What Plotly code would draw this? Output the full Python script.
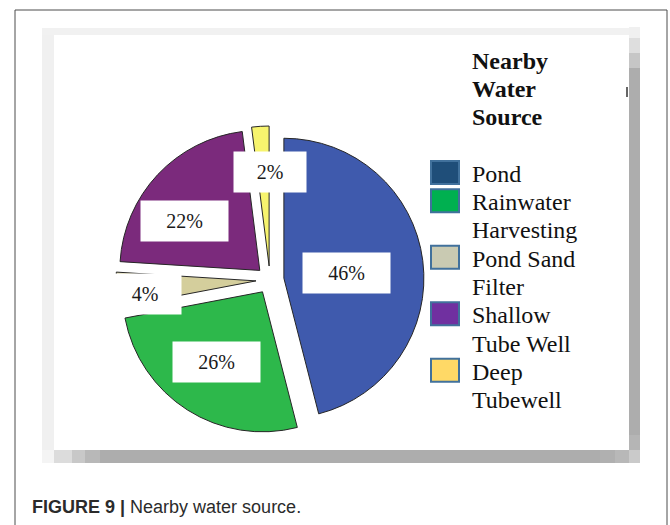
import math
import plotly.graph_objects as go

# Survey result: nearby water source (share of households, %)
sources = ["Pond", "Rainwater Harvesting", "Pond Sand Filter", "Shallow Tube Well", "Deep Tubewell"]
shares = [46, 26, 4, 22, 2]
pct_labels = ["46%", "26%", "4%", "22%", "2%"]
slice_colors = ["#3F5AAD", "#2DB84B", "#D4CE9C", "#7B2A7C", "#F7F46E"]
legend_colors = ["#1F4E79", "#00B050", "#C9CAB2", "#7030A0", "#FFD966"]
legend_lines = [["Pond"], ["Rainwater", "Harvesting"], ["Pond Sand", "Filter"],
                ["Shallow", "Tube Well"], ["Deep", "Tubewell"]]
legend_title = ["Nearby", "Water", "Source"]

W, H = 670, 525
SERIF = "Liberation Serif, Times New Roman, serif"

# pie geometry (pixels from top-left)
cx, cy, r, pull = 270, 280, 140, 0.1
half = r * (1 + pull)

def px(x):
    return x / W

def py(y):
    return 1 - y / H

fig = go.Figure()
fig.add_trace(go.Pie(
    labels=sources, values=shares, sort=False, direction="clockwise", rotation=0,
    pull=[pull] * len(shares), textinfo="none", hoverinfo="label+percent",
    marker=dict(colors=slice_colors, line=dict(color="#262626", width=1)),
    domain=dict(x=[px(cx - half), px(cx + half)], y=[py(cy + half), py(cy - half)]),
    showlegend=False,
))

# percentage labels in white boxes, placed along each slice's mid angle
label_frac = [0.55, 0.70, 0.90, 0.745, 0.775]
label_turn = [2, 1, -2.8, -8.7, 3.6]
annotations = []
total = sum(shares)
cum = 0
for i, s in enumerate(shares):
    mid = (cum + s / 2) / total * 2 * math.pi + math.radians(label_turn[i])
    cum += s
    lx = cx + label_frac[i] * r * math.sin(mid)
    ly = cy - label_frac[i] * r * math.cos(mid)
    annotations.append(dict(
        x=px(lx), y=py(ly), xref="paper", yref="paper", showarrow=False,
        text=pct_labels[i], font=dict(family=SERIF, size=20, color="#1A1A1A"),
        bgcolor="white", width=87 if len(pct_labels[i]) > 2 else 72, height=40,
        borderpad=0, xanchor="center", yanchor="middle",
    ))

# legend drawn as a text column with colour keys
line0, step, text_x = 61, 28.25, 470
for k, t in enumerate(legend_title):
    annotations.append(dict(
        x=px(text_x), y=py(line0 + step * k), xref="paper", yref="paper",
        showarrow=False, text="<b>%s</b>" % t, xanchor="left", yanchor="middle",
        font=dict(family=SERIF, size=24, color="#111111"),
    ))
shapes = []
k = 4
for i, lines in enumerate(legend_lines):
    ytop = line0 + step * k
    shapes.append(dict(
        type="rect", xref="paper", yref="paper",
        x0=px(431), x1=px(459), y0=py(ytop - 13), y1=py(ytop + 10),
        fillcolor=legend_colors[i], line=dict(color="#41719C", width=2),
    ))
    for ln in lines:
        annotations.append(dict(
            x=px(text_x), y=py(line0 + step * k), xref="paper", yref="paper",
            showarrow=False, text=ln, xanchor="left", yanchor="middle",
            font=dict(family=SERIF, size=24, color="#111111"),
        ))
        k += 1

# figure frame and soft drop shadow around the chart panel
def band(x0, x1, y0, y1, color):
    shapes.append(dict(type="rect", xref="paper", yref="paper", layer="below",
                       x0=px(x0), x1=px(x1), y0=py(y1), y1=py(y0),
                       fillcolor=color, line=dict(width=0)))

band(42, 629, 28, 35, "#F1F1F1")
band(42, 54, 35, 450, "#F0F0F0")
band(42, 54, 450, 463, "#F4F4F4")
for y0, y1, c in [(27, 38, "#F0F0F0"), (38, 53, "#DEDEDE"), (53, 68, "#C6C6C6"),
                  (68, 435, "#ADADAD"), (435, 450, "#B5B5B5"), (450, 463, "#CACACA")]:
    band(629, 640, y0, y1, c)
for x0, x1, c in [(54, 72, "#DCDCDC"), (72, 85, "#C8C8C8"), (85, 100, "#B8B8B8"),
                  (100, 600, "#ADADAD"), (600, 615, "#B0B0B0"), (615, 629, "#B8B8B8")]:
    band(x0, x1, 450, 463, c)
shapes.append(dict(type="line", xref="paper", yref="paper", x0=px(627), x1=px(627),
                   y0=py(87), y1=py(97), line=dict(color="#333333", width=1.5)))
shapes.append(dict(type="rect", xref="paper", yref="paper", layer="below",
                   x0=px(15), x1=px(667), y0=py(540), y1=py(10),
                   line=dict(color="#4D4D4D", width=1), fillcolor="rgba(0,0,0,0)"))

annotations.append(dict(
    x=px(30), y=py(507), xref="paper", yref="paper", showarrow=False,
    xanchor="left", yanchor="middle",
    text="<b>FIGURE 9 |</b> Nearby water source.",
    font=dict(family="Liberation Sans, Arial, sans-serif", size=18, color="#2B2B2B"),
))

fig.update_layout(
    width=W, height=H, margin=dict(l=0, r=0, t=0, b=0),
    paper_bgcolor="white", plot_bgcolor="white",
    shapes=shapes, annotations=annotations, showlegend=False,
)
fig.write_html("out.html")
